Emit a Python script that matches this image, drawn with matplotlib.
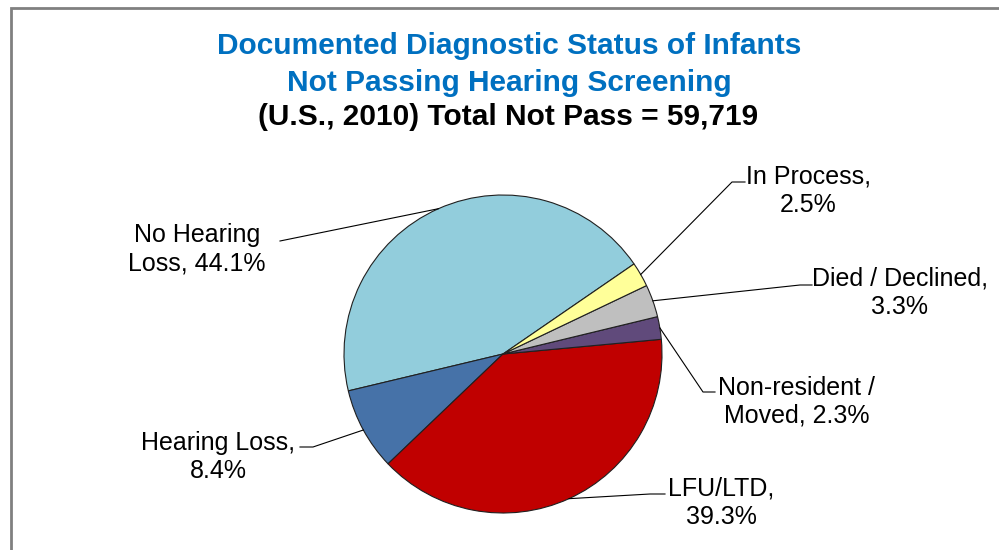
import numpy as np
import matplotlib.pyplot as plt
from matplotlib.patches import Rectangle

plt.rcParams['font.family'] = ['Liberation Sans', 'DejaVu Sans']

# data (counter-clockwise order, starting at the In Process boundary)
labels = ['No Hearing\nLoss, 44.1%', 'Hearing Loss,\n8.4%', 'LFU/LTD,\n39.3%',
          'Non-resident /\nMoved, 2.3%', 'Died / Declined,\n3.3%', 'In Process,\n2.5%']
values = [44.1, 8.4, 39.3, 2.3, 3.3, 2.5]
colors = ['#92CDDC', '#4672A8', '#C00000', '#604A7B', '#BFBFBF', '#FFFF99']

title1 = 'Documented Diagnostic Status of Infants'
title2 = 'Not Passing Hearing Screening'
title3 = '(U.S., 2010) Total Not Pass = 59,719'

W, H = 999, 550
# label layout in pixel coords: text centre x, last-line baseline y, elbow, line end
lab_pos = [(197, 270), (218, 478), (721, 524), (797, 423), (900, 314), (808, 212)]
elbows = [(280, 241), (313, 447), (650, 494), (703, 392), (800, 285), (732, 182)]
ends = [(280, 241), (300, 447), (665, 494), (715, 392), (812, 285), (745, 182)]

fig = plt.figure(figsize=(W / 100, H / 100), dpi=100)
ax = fig.add_axes([0, 0, 1, 1])

cx, cy, r = 503, H - 354, 159
wedges, _ = ax.pie(values, colors=colors, startangle=34.5, center=(cx, cy), radius=r,
                   wedgeprops=dict(edgecolor='#202020', linewidth=0.8), frame=True)
ax.set_xlim(0, W)
ax.set_ylim(0, H)
ax.set_aspect('equal')
ax.axis('off')

for w, lab, (tx, ty), (ex, ey), (lx, ly) in zip(wedges, labels, lab_pos, elbows, ends):
    mid = np.deg2rad((w.theta1 + w.theta2) / 2)
    px, py = cx + r * np.cos(mid), cy + r * np.sin(mid)
    ax.plot([px, ex, lx], [py, H - ey, H - ly], color='black', lw=0.8)
    ax.text(tx, H - ty, lab, ha='center', va='baseline', fontsize=18,
            linespacing=1.22, color='black')

# titles
ax.text(509, H - 54, title1, ha='center', va='baseline', fontsize=21.5,
        fontweight='bold', color='#0070C0')
ax.text(509, H - 91, title2, ha='center', va='baseline', fontsize=21.5,
        fontweight='bold', color='#0070C0')
ax.text(508, H - 125, title3, ha='center', va='baseline', fontsize=21.5,
        fontweight='bold', color='black')

# frame (left and top edges visible)
ax.add_patch(Rectangle((11, -20), 1100, H - 8 + 20, fill=False,
                       edgecolor='#808080', lw=2, clip_on=True))

fig.savefig('out.png', dpi=100)
